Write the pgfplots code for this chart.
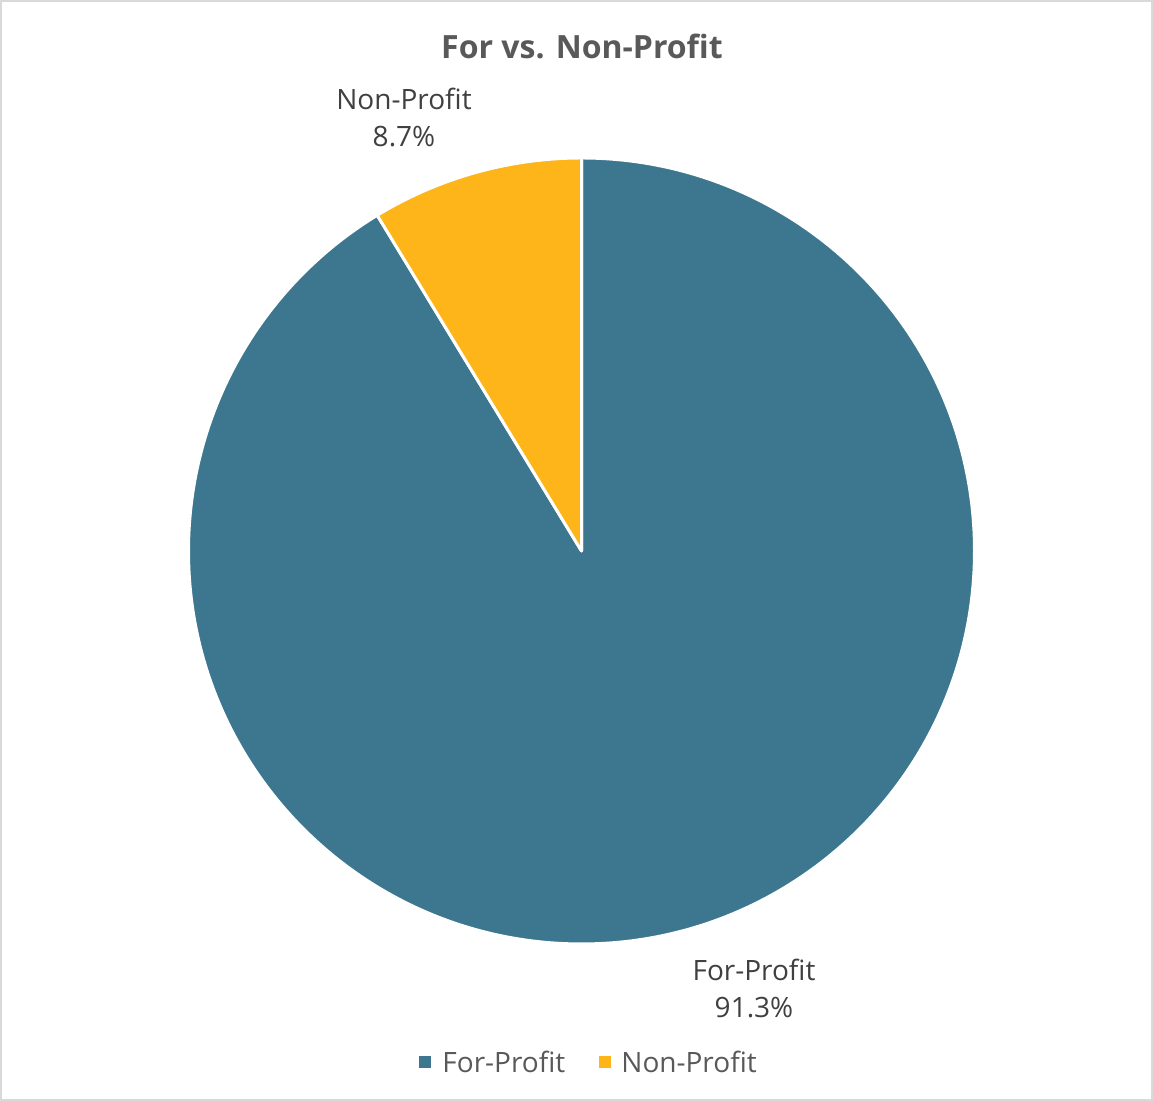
\documentclass[border=0pt]{standalone}
\usepackage{pgfplots}
\pgfplotsset{compat=1.18}
\usepackage{pgfplotstable}
\usepackage{fontspec}
\setmainfont{Open Sans}
\definecolor{forc}{HTML}{3D778F}
\definecolor{nonc}{HTML}{FDB519}
\definecolor{txt}{HTML}{595959}
\definecolor{lbl}{HTML}{404040}
\definecolor{frame}{HTML}{D9D9D9}
\pgfplotstableread{
name value
For-Profit 91.3
Non-Profit 8.7
}\piedata
\begin{document}
\begin{tikzpicture}
\pgfplotstablegetelem{0}{value}\of\piedata \let\va\pgfplotsretval
\pgfplotstablegetelem{1}{value}\of\piedata \let\vb\pgfplotsretval
\pgfmathsetmacro{\aA}{90}
\pgfmathsetmacro{\aB}{90-3.6*\va}
\pgfmathsetmacro{\aC}{\aB-3.6*\vb}
\begin{axis}[width=576.5pt,height=550.5pt,scale only axis,hide axis,
  xmin=0,xmax=1153,ymin=0,ymax=1101,clip=false]
\fill[white] (axis cs:0,0) rectangle (axis cs:1153,1101);
\draw[frame,line width=0.75pt] (axis cs:1,1) rectangle (axis cs:1152,1100);
\fill[forc,draw=white,line width=1.5pt,line join=round] (axis cs:581.5,550) -- ++(\aA:196.5pt) arc[start angle=\aA,end angle=\aB,radius=196.5pt] -- cycle;
\fill[nonc,draw=white,line width=1.5pt,line join=round] (axis cs:581.5,550) -- ++(\aB:196.5pt) arc[start angle=\aB,end angle=\aC,radius=196.5pt] -- cycle;
\node[text=txt,font=\fontsize{16}{19}\selectfont\bfseries] at (axis cs:582,1055) {For vs. Non-Profit};
\node[text=lbl,align=center,font=\fontsize{14}{18.5}\selectfont] at (axis cs:404,983) {Non-Profit\\8.7\%};
\node[text=lbl,align=center,font=\fontsize{14}{18.5}\selectfont] at (axis cs:754,112) {For-Profit\\91.3\%};
\fill[forc] (axis cs:419,33) rectangle (axis cs:431,45);
\node[text=txt,anchor=west,inner sep=0pt,font=\fontsize{14}{16}\selectfont] at (axis cs:442,39) {For-Profit};
\fill[nonc] (axis cs:599,33) rectangle (axis cs:611,45);
\node[text=txt,anchor=west,inner sep=0pt,font=\fontsize{14}{16}\selectfont] at (axis cs:621,39) {Non-Profit};
\end{axis}
\end{tikzpicture}
\end{document}
